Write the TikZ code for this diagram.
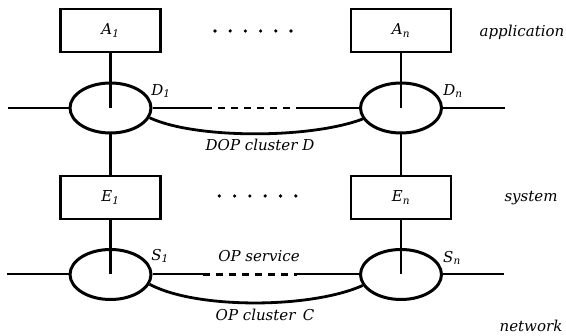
\documentclass[tikz,border=0pt]{standalone}
\usepackage{fontspec}
\setmainfont{DejaVu Serif}
\usetikzlibrary{shapes.geometric}

\begin{document}
\begin{tikzpicture}[x=1pt,y=-1pt,
  every node/.style={font=\fontsize{15}{17}\selectfont\itshape},
  unit/.style={draw,line width=2.2pt,minimum width=100pt,minimum height=43pt,inner sep=0pt},
  port/.style={draw,ellipse,line width=3pt,minimum width=81pt,minimum height=50pt,inner sep=0pt},
  wire/.style={line width=2pt},
  stem/.style={line width=2.4pt},
  gap/.style={line width=2.2pt,dash pattern=on 7pt off 6pt},
  cluster/.style={line width=2.8pt},
  dot/.style={fill=black,circle,inner sep=0pt,minimum size=3.6pt},
  lbl/.style={inner sep=0pt}]
\useasboundingbox (0,0) rectangle (566,336);

% application entities
\node[unit] (A1) at (110.5,30.5) {A\textsubscript{1}};
\node[unit] (An) at (401,30.5) {A\textsubscript{n}};
% DOP service access points
\node[port] (D1) at (110.5,108) {};
\node[port] (Dn) at (401,108) {};
% system entities
\node[unit] (E1) at (110.5,197.5) {E\textsubscript{1}};
\node[unit] (En) at (401,197.5) {E\textsubscript{n}};
% OP service access points
\node[port] (S1) at (110.5,274.5) {};
\node[port] (Sn) at (401,274.5) {};

% vertical links
\draw[stem] (A1.south) -- (D1.center);
\draw[stem] (An.south) -- (Dn.center);
\draw[stem] (D1.south) -- (E1.north);
\draw[stem] (Dn.south) -- (En.north);
\draw[stem] (E1.south) -- (S1.center);
\draw[stem] (En.south) -- (Sn.center);

% horizontal service lines
\coordinate (dl) at (8,108);
\coordinate (dr) at (505,108);
\coordinate (da) at (205,108);
\coordinate (db) at (297,108);
\draw[wire] (dl) -- (D1.west);
\draw[wire] (Dn.east) -- (dr);
\draw[wire] (D1.east) -- (da);
\draw[gap] (da) -- (db);
\draw[wire] (db) -- (Dn.west);

\coordinate (sl) at (7,274.5);
\coordinate (sr) at (504,274.5);
\coordinate (sa) at (203,274.5);
\coordinate (sb) at (297,274.5);
\draw[wire] (sl) -- (S1.west);
\draw[wire] (Sn.east) -- (sr);
\draw[wire] (S1.east) -- (sa);
\draw[gap] (sa) -- (sb);
\draw[wire] (sb) -- (Sn.west);

% cluster arcs
\draw[cluster] (D1.-14) .. controls (195,139) and (310,139) .. (Dn.196);
\draw[cluster] (S1.-14) .. controls (195,309) and (310,309) .. (Sn.196);

% ellipsis dots
\foreach \x [count=\i] in {215,230.2,245.4,260.6,275.8,291}
  \node[dot] (ta\i) at (\x,31) {};
\foreach \x [count=\i] in {219.3,234.6,249.9,265.2,280.5,295.8}
  \node[dot] (tb\i) at (\x,196) {};

% labels
\node[lbl] (lD1) at (161,91) {D\textsubscript{1}};
\node[lbl] (lDn) at (453,91) {D\textsubscript{n}};
\node[lbl] (lS1) at (160,256) {S\textsubscript{1}};
\node[lbl] (lSn) at (452,258) {S\textsubscript{n}};
\node[lbl] (dop) at (260,145) {DOP cluster D};
\node[lbl] (ops) at (259,256) {OP service};
\node[lbl] (opc) at (265,315) {OP cluster\, C};
\node[lbl] (app) at (522,32) {application};
\node[lbl] (sys) at (531,198) {system};
\node[lbl] (net) at (531,326) {network};
\end{tikzpicture}
\end{document}
